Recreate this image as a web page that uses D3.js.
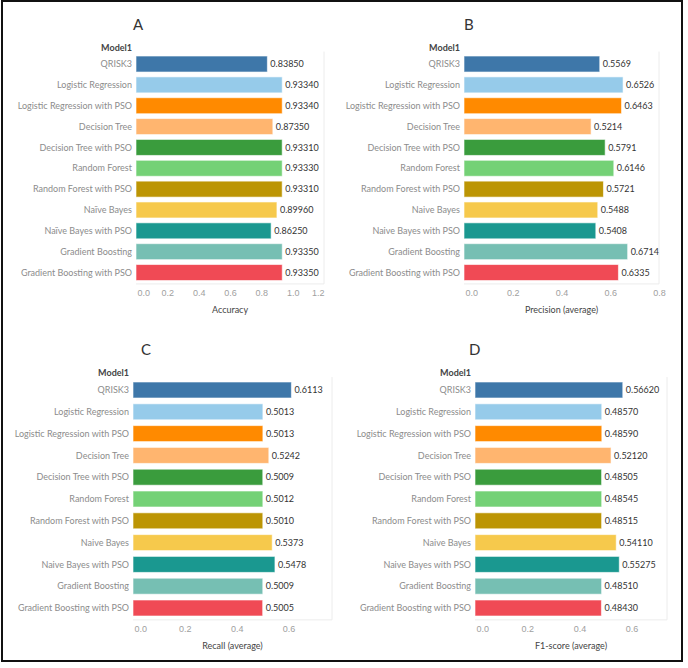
<!DOCTYPE html>
<html>
<head>
<meta charset="utf-8">
<script src="https://cdn.jsdelivr.net/npm/d3@7"></script>
<style>
  body { margin: 0; background: #fff; }
  svg { display: block; font-family: Lato, "Open Sans", sans-serif; }
</style>
</head>
<body>
<svg id="chart" width="688" height="668"></svg>
<script>
var models = ["QRISK3", "Logistic Regression", "Logistic Regression with PSO", "Decision Tree",
  "Decision Tree with PSO", "Random Forest", "Random Forest with PSO", "Naive Bayes",
  "Naive Bayes with PSO", "Gradient Boosting", "Gradient Boosting with PSO"];
// panel A spells it with a diaeresis
var modelsA = models.map(function (m) { return m.replace("Naive", "Na\u00efve"); });

var accuracy  = [0.83850, 0.93340, 0.93340, 0.87350, 0.93310, 0.93330, 0.93310, 0.89960, 0.86250, 0.93350, 0.93350];
var precision = [0.5569, 0.6526, 0.6463, 0.5214, 0.5791, 0.6146, 0.5721, 0.5488, 0.5408, 0.6714, 0.6335];
var recall    = [0.6113, 0.5013, 0.5013, 0.5242, 0.5009, 0.5012, 0.5010, 0.5373, 0.5478, 0.5009, 0.5005];
var f1score   = [0.56620, 0.48570, 0.48590, 0.52120, 0.48505, 0.48545, 0.48515, 0.54110, 0.55275, 0.48510, 0.48430];

var ticksA = [0, 0.2, 0.4, 0.6, 0.8, 1.0, 1.2];
var ticksB = [0, 0.2, 0.4, 0.6, 0.8];
var ticksCD = [0, 0.2, 0.4, 0.6];

var colors = ["#3e77a9", "#96cbea", "#ff8a00", "#ffb56f", "#3a9c3d", "#74d176",
  "#bc9504", "#f6c94c", "#1a9890", "#76bfb3", "#f04a55"];

var svg = d3.select("#chart");

// outer frame
svg.append("rect")
  .attr("x", 2).attr("y", 1)
  .attr("width", 680).attr("height", 660)
  .attr("fill", "none")
  .attr("stroke", "#111")
  .attr("stroke-width", 2);

var panels = [
  { letter: "A", title: "Accuracy", labels: modelsA, values: accuracy, fmt: ".5f", max: 1.2, ticks: ticksA,
    x0: 136, x1: 324, top: 53.6, step: 20.85, letterX: 133, lastInside: true },
  { letter: "B", title: "Precision (average)", labels: models, values: precision, fmt: ".4f", max: 0.8, ticks: ticksB,
    x0: 464, x1: 659, top: 53.6, step: 20.85, letterX: 464, lastInside: false },
  { letter: "C", title: "Recall (average)", labels: models, values: recall, fmt: ".4f", max: 0.768, ticks: ticksCD,
    x0: 133, x1: 332, top: 379.1, step: 21.8, letterX: 141, lastInside: false },
  { letter: "D", title: "F1-score (average)", labels: models, values: f1score, fmt: ".5f", max: 0.7356, ticks: ticksCD,
    x0: 475, x1: 667, top: 379.1, step: 21.8, letterX: 469, lastInside: false }
];

panels.forEach(drawPanel);

function drawPanel(p) {
  var g = svg.append("g");
  var rows = p.labels.map(function (d, i) { return { name: d, value: p.values[i], color: colors[i] }; });
  var bottom = p.top + p.step * rows.length;

  var x = d3.scaleLinear().domain([0, p.max]).range([p.x0, p.x1]);
  var y = d3.scaleBand()
    .domain(p.labels)
    .range([p.top, bottom])
    .paddingInner(1 - 16 / p.step)
    .paddingOuter((1 - 16 / p.step) / 2);

  // faint pane lines
  g.append("line")
    .attr("x1", p.x0).attr("x2", p.x1)
    .attr("y1", bottom + 1).attr("y2", bottom + 1)
    .attr("stroke", "#ececec");
  g.append("line")
    .attr("x1", p.x1).attr("x2", p.x1)
    .attr("y1", p.top - 2).attr("y2", bottom + 1)
    .attr("stroke", "#ececec");

  // panel letter + header
  g.append("text")
    .attr("x", p.letterX).attr("y", p.top - 24)
    .attr("font-size", 15)
    .attr("fill", "#333")
    .text(p.letter);
  g.append("text")
    .attr("x", p.x0 - 4).attr("y", p.top - 3)
    .attr("text-anchor", "end")
    .attr("font-size", 9)
    .attr("font-weight", "bold")
    .attr("fill", "#444")
    .text("Model1");

  // bars
  g.selectAll("rect.bar")
    .data(rows)
    .enter()
    .append("rect")
    .classed("bar", true)
    .attr("x", x(0))
    .attr("y", function (d) { return y(d.name); })
    .attr("width", function (d) { return x(d.value) - x(0); })
    .attr("height", y.bandwidth())
    .attr("fill", function (d) { return d.color; })
    .attr("stroke", "rgba(255,255,255,0.6)")
    .attr("stroke-width", 1);

  // category labels
  g.selectAll("text.cat")
    .data(rows)
    .enter()
    .append("text")
    .classed("cat", true)
    .attr("x", p.x0 - 4)
    .attr("y", function (d) { return y(d.name) + y.bandwidth() / 2; })
    .attr("dy", "0.35em")
    .attr("text-anchor", "end")
    .attr("font-size", 9)
    .attr("fill", "#8c8c8c")
    .text(function (d) { return d.name; });

  // value labels
  g.selectAll("text.val")
    .data(rows)
    .enter()
    .append("text")
    .classed("val", true)
    .attr("x", function (d) { return x(d.value) + 3; })
    .attr("y", function (d) { return y(d.name) + y.bandwidth() / 2; })
    .attr("dy", "0.35em")
    .attr("font-size", 9)
    .attr("fill", "#333")
    .text(function (d) { return d3.format(p.fmt)(d.value); });

  // x axis, no domain line or ticks, just labels
  var axis = g.append("g")
    .attr("transform", "translate(0," + (bottom + 4) + ")")
    .call(d3.axisBottom(x).tickValues(p.ticks).tickFormat(d3.format(".1f")).tickSize(0).tickPadding(3));
  axis.select(".domain").remove();
  axis.selectAll("text")
    .attr("font-family", null)
    .attr("font-size", 9)
    .attr("fill", "#a0a0a0")
    .attr("text-anchor", function (d, i) {
      if (i === 0) return "start";
      if (p.lastInside && i === p.ticks.length - 1) return "end";
      return "middle";
    })
    .attr("dx", function (d, i) { return i === 0 ? 1 : 0; });

  g.append("text")
    .attr("x", (p.x0 + p.x1) / 2)
    .attr("y", bottom + 30)
    .attr("text-anchor", "middle")
    .attr("font-size", 9)
    .attr("fill", "#444")
    .text(p.title);
}
</script>
</body>
</html>
